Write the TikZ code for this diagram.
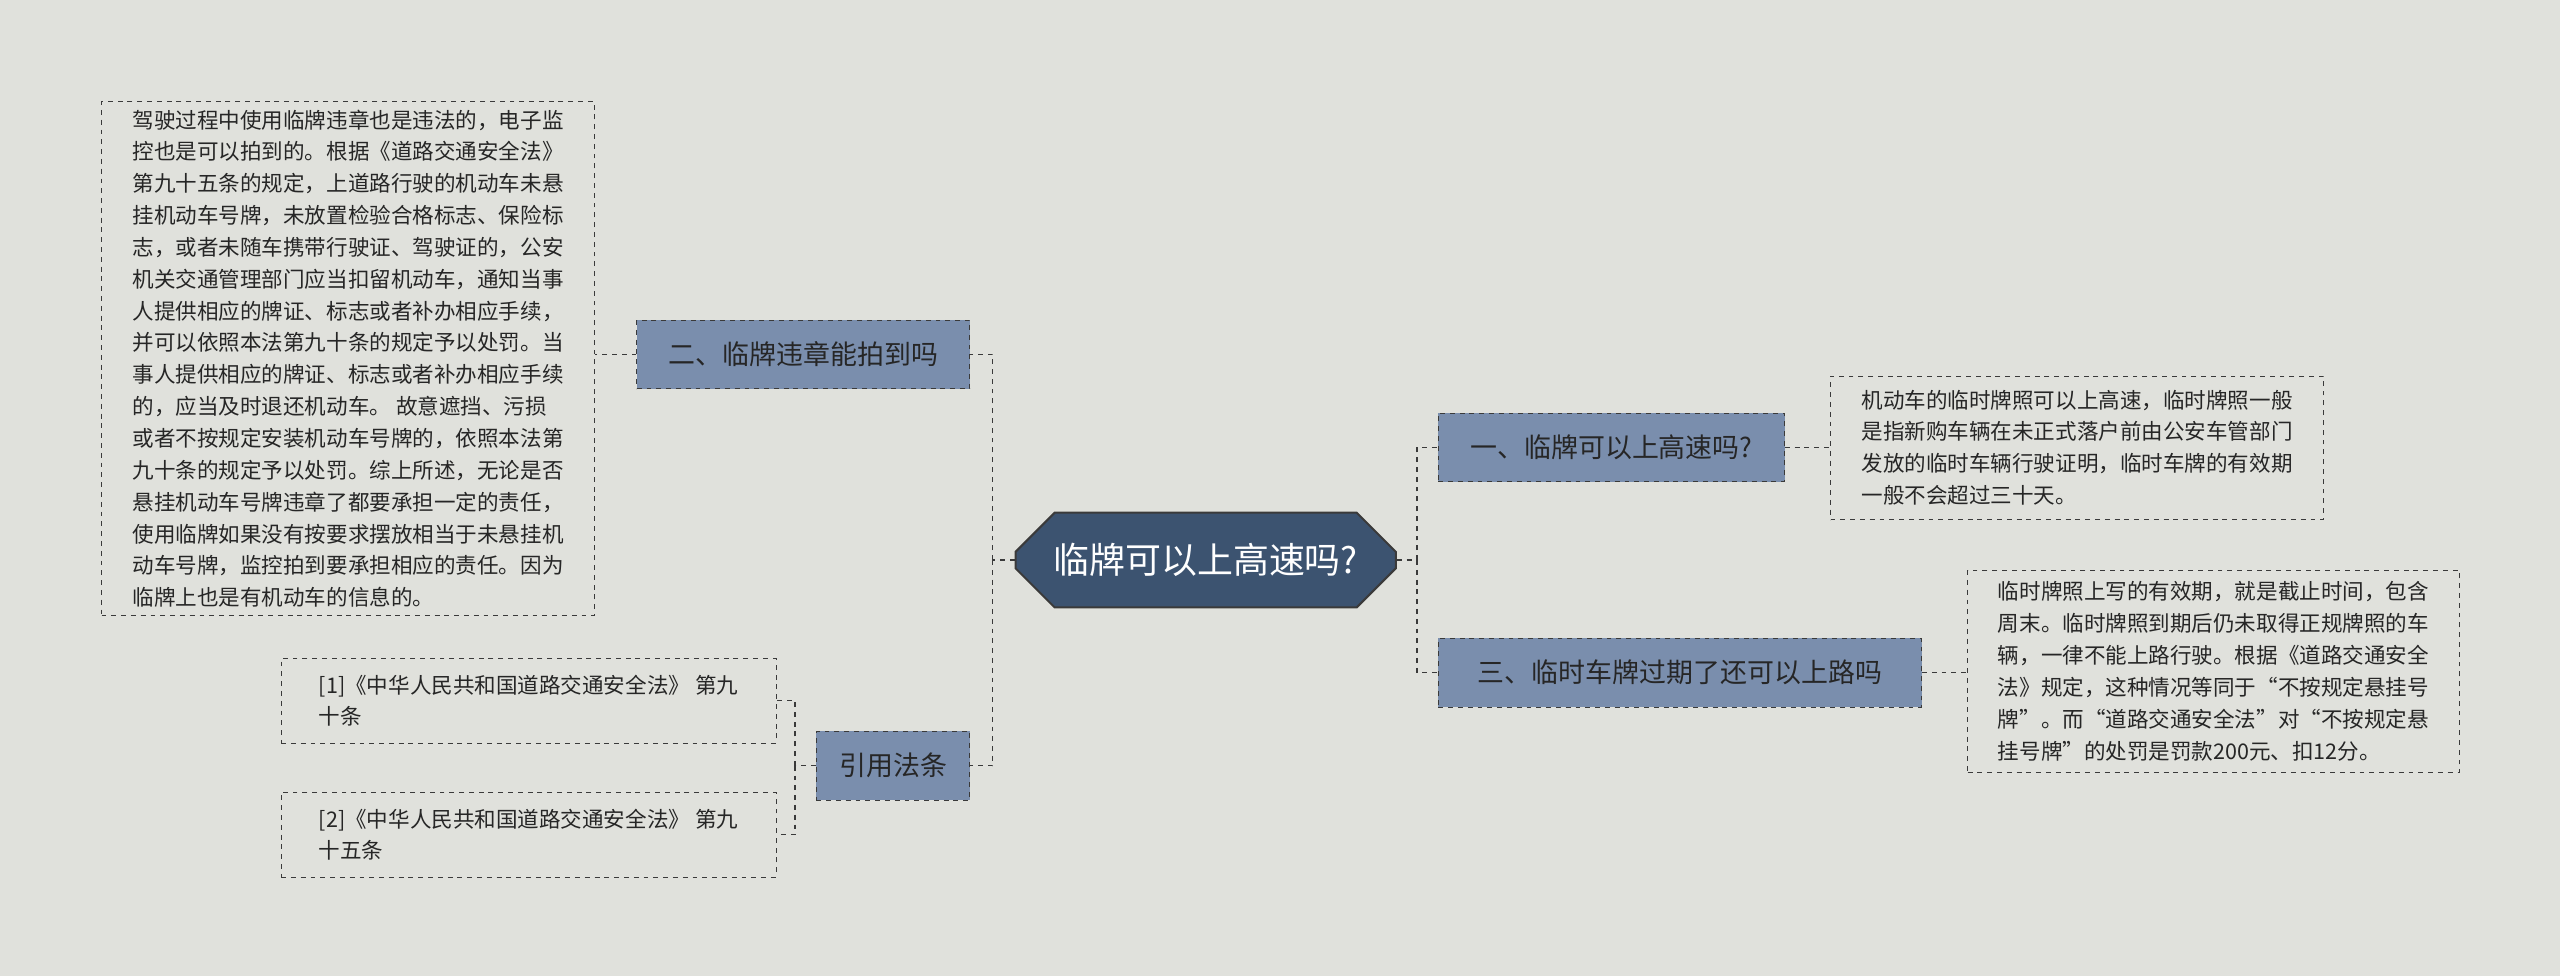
\documentclass[tikz,border=0pt]{standalone}
\usepackage{fontspec}
\setmainfont{Noto Sans CJK SC}
\usetikzlibrary{shapes,calc,positioning}
\definecolor{bgc}{HTML}{E0E1DC}
\definecolor{rootc}{HTML}{3C5370}
\definecolor{branchc}{HTML}{7A8EAD}
\definecolor{linec}{HTML}{3A3A3A}
\begin{document}
\begin{tikzpicture}[x=1pt,y=-1pt,
  root/.style={chamfered rectangle,chamfered rectangle xsep=3pt,chamfered rectangle sep=12pt,
    draw=linec,line width=1.2pt,fill=rootc,text=white,font=\fontsize{22}{26}\selectfont,
    minimum width=233pt,minimum height=58pt,inner xsep=2pt},
  branch/.style={rectangle,draw=linec,dashed,fill=branchc,text=black!85,
    font=\fontsize{16.5}{20}\selectfont,minimum height=42pt,inner xsep=9pt},
  leaf/.style={rectangle,draw=linec,dashed,align=left,text=black!85,
    font=\fontsize{13.2}{19.5}\selectfont,inner xsep=7pt,inner ysep=5pt,anchor=north west},
  link/.style={draw=linec,dashed,line width=0.9pt}]
  \fill[bgc] (0,0) rectangle (1568,598);
  % centre
  \node[root] (center) at (738.5,343) {临牌可以上高速吗?};
  % branches
  \node[branch,minimum width=204pt] (b2) at (492,217) {二、临牌违章能拍到吗};
  \node[branch,minimum width=94pt] (bref) at (547,469) {引用法条};
  \node[branch,minimum width=212pt] (b1) at (987,274) {一、临牌可以上高速吗?};
  \node[branch,minimum width=296pt] (b3) at (1029,412) {三、临时车牌过期了还可以上路吗};
  % leaves
  \node[leaf,minimum width=302pt,minimum height=310pt] (l2) at (62,62) {驾驶过程中使用临牌违章也是违法的，电子监\\控也是可以拍到的。根据《道路交通安全法》\\第九十五条的规定，上道路行驶的机动车未悬\\挂机动车号牌，未放置检验合格标志、保险标\\志，或者未随车携带行驶证、驾驶证的，公安\\机关交通管理部门应当扣留机动车，通知当事\\人提供相应的牌证、标志或者补办相应手续，\\并可以依照本法第九十条的规定予以处罚。当\\事人提供相应的牌证、标志或者补办相应手续\\的，应当及时退还机动车。 故意遮挡、污损\\或者不按规定安装机动车号牌的，依照本法第\\九十条的规定予以处罚。综上所述，无论是否\\悬挂机动车号牌违章了都要承担一定的责任，\\使用临牌如果没有按要求摆放相当于未悬挂机\\动车号牌，监控拍到要承担相应的责任。因为\\临牌上也是有机动车的信息的。};
  \node[leaf,minimum width=303pt,minimum height=52pt] (r1) at (172,403) {[1]《中华人民共和国道路交通安全法》 第九\\十条};
  \node[leaf,minimum width=303pt,minimum height=52pt] (r2) at (172,485) {[2]《中华人民共和国道路交通安全法》 第九\\十五条};
  \node[leaf,minimum width=302pt,minimum height=88pt] (l1) at (1121,230) {机动车的临时牌照可以上高速，临时牌照一般\\是指新购车辆在未正式落户前由公安车管部门\\发放的临时车辆行驶证明，临时车牌的有效期\\一般不会超过三十天。};
  \node[leaf,minimum width=301pt,minimum height=124pt] (l3) at (1205,349) {临时牌照上写的有效期，就是截止时间，包含\\周末。临时牌照到期后仍未取得正规牌照的车\\辆，一律不能上路行驶。根据《道路交通安全\\法》规定，这种情况等同于“不按规定悬挂号\\牌”。而“道路交通安全法”对“不按规定悬\\挂号牌”的处罚是罚款200元、扣12分。};
  % connectors
  \coordinate (jl) at (608,343);
  \coordinate (jr) at (868,343);
  \coordinate (jref) at (487,469);
  \draw[link] (center.west) -- (jl);
  \draw[link] (jl) |- (b2.east);
  \draw[link] (jl) |- (bref.east);
  \draw[link] (center.east) -- (jr);
  \draw[link] (jr) |- (b1.west);
  \draw[link] (jr) |- (b3.west);
  \draw[link] (b2.west) -- (l2.east |- b2.west);
  \draw[link] (bref.west) -- (jref);
  \draw[link] (jref) |- (r1.east);
  \draw[link] (jref) |- (r2.east);
  \draw[link] (b1.east) -- (l1.west |- b1.east);
  \draw[link] (b3.east) -- (l3.west |- b3.east);
\end{tikzpicture}
\end{document}
